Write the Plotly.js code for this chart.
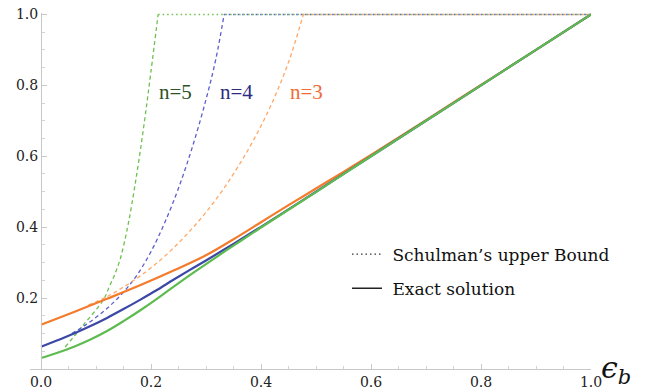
<!DOCTYPE html>
<html>
<head>
<meta charset="utf-8">
<script src="https://cdn.plot.ly/plotly-3.0.1.min.js"></script>
<style>html,body{margin:0;padding:0;background:#fff;}</style>
</head>
<body>
<div id="chart" style="width:648px;height:392px;"></div>
<script>
// Exact solution (solid)
const exactX3 = [0, 0.06, 0.12, 0.18, 0.24, 0.30, 0.35, 0.40, 0.45, 0.50, 0.55, 0.60, 0.70, 0.80, 0.90, 1.0];
const exactY3 = [0.125, 0.161, 0.198, 0.236, 0.277, 0.321, 0.366, 0.414, 0.462, 0.509, 0.556, 0.604, 0.702, 0.801, 0.900, 1.0];
const exactX4 = [0, 0.03, 0.06, 0.09, 0.12, 0.15, 0.18, 0.21, 0.24, 0.27, 0.30, 0.35, 0.40, 0.50, 0.60, 0.70, 0.80, 0.90, 1.0];
const exactY4 = [0.0625, 0.081, 0.100, 0.121, 0.144, 0.169, 0.195, 0.222, 0.251, 0.279, 0.306, 0.353, 0.401, 0.500, 0.600, 0.700, 0.800, 0.900, 1.0];
const exactX5 = [0, 0.03, 0.06, 0.09, 0.12, 0.15, 0.18, 0.21, 0.24, 0.27, 0.30, 0.35, 0.40, 0.50, 0.60, 0.70, 0.80, 0.90, 1.0];
const exactY5 = [0.031, 0.046, 0.063, 0.083, 0.107, 0.135, 0.165, 0.197, 0.231, 0.264, 0.296, 0.348, 0.399, 0.499, 0.600, 0.700, 0.800, 0.900, 1.0];

// Schulman's upper bound (dashed, then dotted at 1)
const boundX3 = [0.086, 0.12, 0.15, 0.18, 0.21, 0.24, 0.27, 0.30, 0.33, 0.36, 0.39, 0.42, 0.45, 0.477];
const boundY3 = [0.180, 0.204, 0.231, 0.262, 0.298, 0.340, 0.388, 0.442, 0.504, 0.575, 0.656, 0.750, 0.865, 1.0];
const boundX4 = [0.056, 0.08, 0.107, 0.13, 0.153, 0.175, 0.20, 0.225, 0.25, 0.275, 0.30, 0.318, 0.333];
const boundY4 = [0.100, 0.123, 0.154, 0.185, 0.222, 0.266, 0.331, 0.413, 0.510, 0.625, 0.760, 0.875, 1.0];
const boundX5 = [0.044, 0.077, 0.113, 0.125, 0.135, 0.144, 0.152, 0.16, 0.17, 0.18, 0.19, 0.20, 0.213];
const boundY5 = [0.062, 0.124, 0.194, 0.235, 0.270, 0.310, 0.360, 0.420, 0.510, 0.610, 0.720, 0.840, 1.0];
const capX3 = [0.477, 1.0], capX4 = [0.333, 1.0], capX5 = [0.213, 1.0];
const capY = [1.0, 1.0];

const xTicks = [0, 0.2, 0.4, 0.6, 0.8, 1.0];
const yTicks = [0.2, 0.4, 0.6, 0.8, 1.0];
const labels = ["n=5", "n=4", "n=3"];
const labelX = [0.244, 0.356, 0.482];
const labelY = [0.78, 0.78, 0.78];
const legendNames = ["\u00a0Schulman\u2019s upper Bound", "\u00a0Exact solution"];

const cOr = "#f47b2c", cBl = "#3b48a6", cGr = "#5dbb4f";
const cOrD = "#ffa868", cBlD = "#5c5fcc", cGrD = "#6cc24e";
const dashP = "4px,3px";
const dotP = "1.5px,3px";
const SERIF = "DejaVu Serif";

function ln(x, y, color, width, dash, shape) {
  return {x: x, y: y, mode: "lines", showlegend: false, hoverinfo: "skip",
    line: {color: color, width: width, dash: dash, shape: shape || "spline", smoothing: 1}};
}

const traces = [
  ln(capX5, capY, cGrD, 1.5, dotP, "linear"),
  ln(capX4, capY, cBlD, 1.5, dotP, "linear"),
  ln(capX3, capY, cOrD, 1.5, dotP, "linear"),
  ln(boundX5, boundY5, cGrD, 1.3, dashP),
  ln(boundX4, boundY4, cBlD, 1.3, dashP),
  ln(boundX3, boundY3, cOrD, 1.3, dashP),
  ln(exactX3, exactY3, cOr, 2.2, "solid"),
  ln(exactX4, exactY4, cBl, 2.2, "solid"),
  ln(exactX5, exactY5, cGr, 2.2, "solid"),
  {x: [null], y: [null], mode: "lines", name: legendNames[0], legendgroup: "a",
   line: {color: "#333", width: 1.3, dash: dotP}},
  {x: [null], y: [null], mode: "lines", name: legendNames[1], legendgroup: "b",
   line: {color: "#222", width: 1.6, dash: "solid"}}
];

const labelColors = ["#2f5128", "#2c2b80", "#f06c34"];
const annotations = labels.map((t, i) => ({
  x: labelX[i], y: labelY[i], xref: "x", yref: "y", text: t, showarrow: false,
  font: {family: "'Liberation Serif', 'DejaVu Serif'", size: 21, color: labelColors[i]}
}));
annotations.push({
  x: 1.0, y: 0, xref: "x", yref: "y", xanchor: "left", yanchor: "middle", xshift: 8, yshift: 0,
  text: "<i>\u03f5<sub>b</sub></i>", showarrow: false,
  font: {family: SERIF, size: 30, color: "#111"}
});

const tf = {family: SERIF, size: 14, color: "#222"};
const layout = {
  width: 648, height: 392,
  font: {family: SERIF},
  margin: {l: 30, r: 57, t: 13, b: 23, pad: 0},
  paper_bgcolor: "#fff", plot_bgcolor: "#fff",
  showlegend: true,
  legend: {x: (347 - 30) / 561, y: 0.372, xanchor: "left", yanchor: "top",
    bgcolor: "rgba(0,0,0,0)", traceorder: "grouped", tracegroupgap: 9, itemwidth: 30,
    font: {family: SERIF, size: 17, color: "#111"}},
  xaxis: {range: [-0.02, 1.0], showgrid: false, zeroline: false, showline: true,
    linecolor: "#c8c8c8", linewidth: 1, ticks: "inside", ticklen: 5, tickcolor: "#c8c8c8",
    tickvals: xTicks, tickformat: ".1f", tickfont: tf,
    minor: {dtick: 0.05, tick0: 0, ticks: "inside", ticklen: 3, tickcolor: "#d4d4d4", showgrid: false}},
  yaxis: {range: [0, 1.004], showgrid: false, zeroline: false, showline: true,
    anchor: "free", position: 11 / 561,
    linecolor: "#c8c8c8", linewidth: 1, ticks: "inside", ticklen: 5, tickcolor: "#c8c8c8",
    tickvals: yTicks, tickformat: ".1f", tickfont: tf,
    minor: {dtick: 0.05, tick0: 0, ticks: "inside", ticklen: 3, tickcolor: "#d4d4d4", showgrid: false}},
  annotations: annotations
};

Plotly.newPlot("chart", traces, layout, {displayModeBar: false, staticPlot: true});
</script>
</body>
</html>
